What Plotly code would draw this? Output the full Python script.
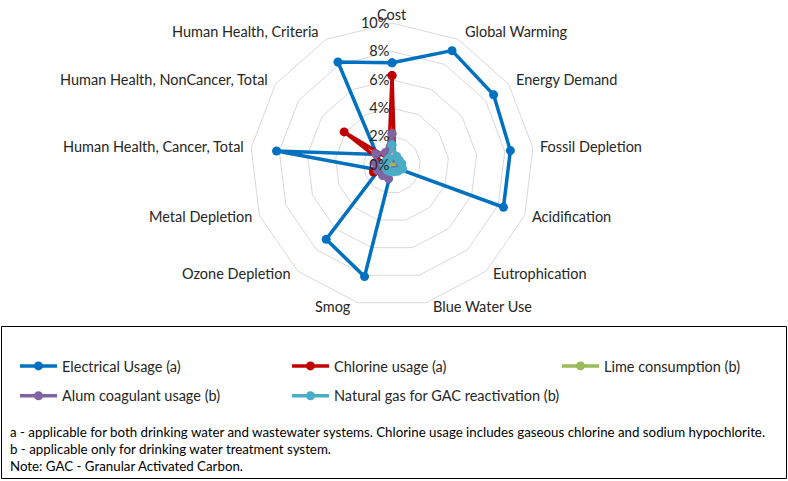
import math
import plotly.graph_objects as go

# impact categories, clockwise from the top
categories = ["Cost", "Global Warming", "Energy Demand", "Fossil Depletion",
              "Acidification", "Eutrophication", "Blue Water Use", "Smog",
              "Ozone Depletion", "Metal Depletion", "Human Health, Cancer, Total",
              "Human Health, NonCancer, Total", "Human Health, Criteria"]

# share of impact, in fractions
electrical = [0.072, 0.091, 0.087, 0.084, 0.084, 0.002, 0.001, 0.081, 0.070, 0.010, 0.082, 0.013, 0.082]
chlorine = [0.063, 0.004, 0.004, 0.003, 0.006, 0.003, 0.002, 0.003, 0.003, 0.014, 0.005, 0.041, 0.005]
lime = [0.003, 0.003, 0.003, 0.003, 0.003, 0.002, 0.002, 0.003, 0.003, 0.003, 0.003, 0.003, 0.003]
alum = [0.022, 0.005, 0.006, 0.006, 0.007, 0.005, 0.004, 0.010, 0.010, 0.011, 0.012, 0.014, 0.010]
natgas = [0.014, 0.007, 0.006, 0.007, 0.008, 0.006, 0.005, 0.005, 0.005, 0.005, 0.006, 0.005, 0.005]

names = ["Electrical Usage (a)", "Chlorine usage (a)", "Lime consumption (b)",
         "Alum coagulant usage (b)", "Natural gas for GAC reactivation (b)"]
series = [electrical, chlorine, lime, alum, natgas]
colors = ["#0070C0", "#C00000", "#9BBB59", "#8064A2", "#4BACC6"]
legends = ["legend", "legend2", "legend3", "legend", "legend2"]

notes = ["a - applicable for both drinking water and wastewater systems. Chlorine usage includes gaseous chlorine and sodium hypochlorite.",
         "b - applicable only for drinking water treatment system.",
         "Note: GAC - Granular Activated Carbon."]

W, H = 788, 481
FONT = "Lato"
TXT = "#262626"
dom_x = [0.317, 0.678]
dom_y = [0.362, 0.952]

fig = go.Figure()
for i in range(len(series)):
    fig.add_trace(go.Scatterpolar(
        r=series[i] + [series[i][0]],
        theta=categories + [categories[0]],
        mode="lines+markers",
        name=names[i],
        line=dict(color=colors[i], width=3.5),
        marker=dict(color=colors[i], size=9),
        legend=legends[i],
        legendgroup=names[i],
    ))

leg = dict(orientation="v", xanchor="left", yanchor="top", bgcolor="rgba(0,0,0,0)",
           font=dict(family=FONT, size=14.5, color=TXT), itemwidth=37, tracegroupgap=8)

fig.update_layout(
    width=W, height=H,
    margin=dict(l=0, r=0, t=0, b=0),
    paper_bgcolor="white",
    font=dict(family=FONT, size=14, color=TXT),
    polar=dict(
        domain=dict(x=dom_x, y=dom_y),
        gridshape="linear",
        bgcolor="white",
        radialaxis=dict(range=[0, 0.10], dtick=0.02, tickformat=".0%", angle=90,
                        side="counterclockwise", tickangle=90, showline=False, ticks="",
                        gridcolor="#D9D9D9", gridwidth=1,
                        tickfont=dict(family=FONT, size=14.5, color=TXT)),
        angularaxis=dict(direction="clockwise", rotation=90, showgrid=False,
                         showline=True, linecolor="#D9D9D9", linewidth=1, ticks="",
                         showticklabels=False),
    ),
    legend=dict(leg, x=15 / W, y=1 - 350 / H),
    legend2=dict(leg, x=287 / W, y=1 - 350 / H),
    legend3=dict(leg, x=557 / W, y=1 - 350 / H),
    shapes=[dict(type="rect", xref="paper", yref="paper",
                 x0=1.5 / W, x1=1 - 1.5 / W, y0=1 - 478.5 / H, y1=1 - 326.5 / H,
                 line=dict(color="#000000", width=1))],
)

# category labels placed just outside the outer polygon, Excel style
cx = (dom_x[0] + dom_x[1]) / 2 * W
cy = (1 - (dom_y[0] + dom_y[1]) / 2) * H
R = min((dom_x[1] - dom_x[0]) * W, (dom_y[1] - dom_y[0]) * H) / 2
n = len(categories)
for k, c in enumerate(categories):
    a = 2 * math.pi * k / n
    dx, dy = math.sin(a), -math.cos(a)
    vx, vy = cx + R * dx, cy + R * dy
    if abs(dx) < 0.05:
        x, xa = vx, "center"
    elif dx > 0:
        x, xa = vx + 5, "left"
    else:
        x, xa = vx - 5, "right"
    y = vy + dy * (9 if dy < 0 else 3.5)
    fig.add_annotation(text=c, xref="paper", yref="paper", x=x / W, y=1 - y / H,
                       xanchor=xa, yanchor="middle", showarrow=False,
                       font=dict(family=FONT, size=14.5, color=TXT))

for k, t in enumerate(notes):
    fig.add_annotation(text=t, xref="paper", yref="paper", x=8 / W, y=1 - (432 + 17 * k) / H,
                       xanchor="left", yanchor="middle", showarrow=False, align="left",
                       font=dict(family=FONT, size=13.3, color="#000000"))

# the page's default body margin would shift the whole figure by 8px
fig.write_html("out.html", config={"displayModeBar": False},
               post_script="document.body.style.margin='0';")
